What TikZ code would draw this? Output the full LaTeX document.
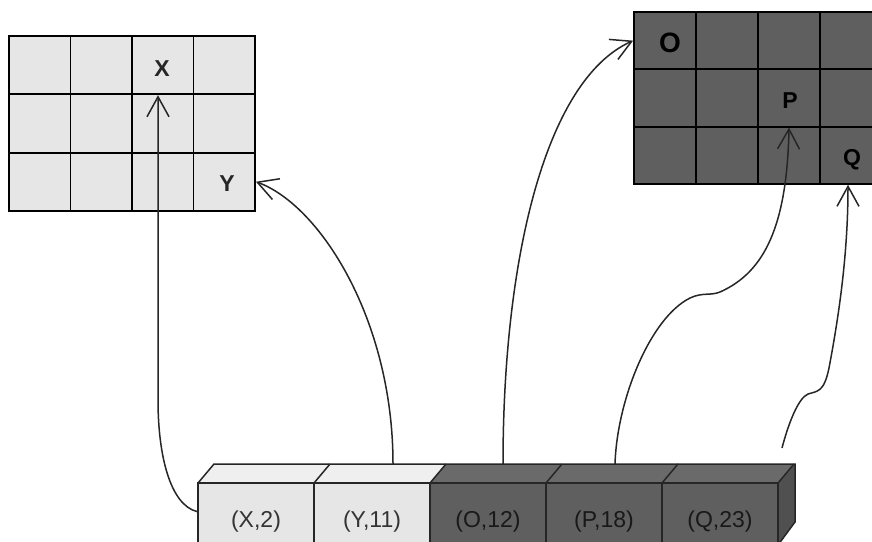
\documentclass[tikz,border=0pt]{standalone}
\usepackage{fontspec}
\setmainfont{Liberation Sans}
\usetikzlibrary{arrows.meta,calc}
\definecolor{lightcell}{HTML}{E6E6E6}
\definecolor{darkcell}{HTML}{5F5F5F}
\definecolor{lighttop}{HTML}{EFEFEF}
\definecolor{darktop}{HTML}{6A6A6A}
\definecolor{darkside}{HTML}{505050}
\definecolor{ink}{HTML}{262626}
\tikzset{
  lcell/.style={draw=black,line width=1.8pt,fill=lightcell,minimum width=61.5pt,minimum height=58.3pt,inner sep=0pt},
  rcell/.style={draw=black,line width=1.8pt,fill=darkcell,minimum width=62pt,minimum height=57.3pt,inner sep=0pt},
  lbox/.style={draw=ink,line width=1.5pt,fill=lightcell,minimum width=116pt,minimum height=78pt,inner sep=0pt,font=\fontsize{23}{23}\selectfont,text=black!80},
  dbox/.style={draw=ink,line width=1.5pt,fill=darkcell,minimum width=116pt,minimum height=78pt,inner sep=0pt,font=\fontsize{23}{23}\selectfont,text=black!90},
  topface/.style={draw=ink,line width=1.5pt},
  conn/.style={draw=ink,line width=1.5pt,-{Straight Barb[length=20pt,width=22pt,line width=1.5pt]}},
  lab/.style={font=\fontsize{23}{23}\selectfont\bfseries,text=black!85},
  rlab/.style={font=\fontsize{23}{23}\selectfont\bfseries,text=black},
}
\begin{document}
\begin{tikzpicture}[x=1pt,y=-1pt]
\useasboundingbox (0,0) rectangle (872,541);
% left grid
\foreach \r in {1,2,3}{
  \foreach \c in {1,2,3,4}{
    \node[lcell] (L-\r-\c) at ({9+61.5*(\c-0.5)},{36+58.3*(\r-0.5)}) {};
  }
}
% right grid
\foreach \r in {1,2,3}{
  \foreach \c in {1,2,3,4}{
    \node[rcell] (R-\r-\c) at ({634+62*(\c-0.5)},{12+57.3*(\r-0.5)}) {};
  }
}
\node[lab] (tX) at (162,69) {X};
\node[lab] (tY) at (227,184) {Y};
\node[rlab,font=\fontsize{28}{28}\selectfont\bfseries] (tO) at (670,43) {O};
\node[rlab] (tP) at (790,101) {P};
\node[rlab] (tQ) at (852,160) {Q};
% array: top faces
\fill[lighttop] (198,483) -- (214,464) -- (446,464) -- (430,483) -- cycle;
\fill[darktop] (430,483) -- (446,464) -- (795,464) -- (778,483) -- cycle;
\fill[darkside] (778,483) -- (795,464) -- (795,522) -- (778,545) -- cycle;
\draw[topface] (198,483) -- (214,464) -- (795,464) -- (795,522) -- (778,545);
\foreach \xx in {314,430,546,662,778}{
  \draw[topface] (\xx,483) -- ({\xx+16},464);
}
% array: front faces
\node[lbox] (a1) at (256,522) {(X,2)};
\node[lbox] (a2) at (372,522) {(Y,11)};
\node[dbox] (a3) at (488,522) {(O,12)};
\node[dbox] (a4) at (604,522) {(P,18)};
\node[dbox] (a5) at (720,522) {(Q,23)};
\coordinate (t2) at (393,464);
\coordinate (t3) at (503,464);
\coordinate (t4) at (615,464);
\coordinate (qstart) at (782,448);
% connectors
\draw[conn] (a1.170) .. controls (170,505) and (158,455) .. (158,400) -- (L-1-3.south -| 158,0);
\draw[conn] (t2) .. controls (393,320) and (320,205) .. (L-3-4.east);
\draw[conn] (t3) .. controls (503,260) and (545,80) .. (R-1-1.west);
\draw[conn] (t4) .. controls (617,400) and (650,318) .. (690,298) .. controls (703,292) and (710,296) .. (720,292) .. controls (765,272) and (787,225) .. (R-2-3.south);
\draw[conn] (qstart) .. controls (788,425) and (798,398) .. (808,394) .. controls (818,391) and (824,392) .. (829,368) .. controls (840,310) and (848,250) .. (R-3-4.south -| 848,0);
\end{tikzpicture}
\end{document}
